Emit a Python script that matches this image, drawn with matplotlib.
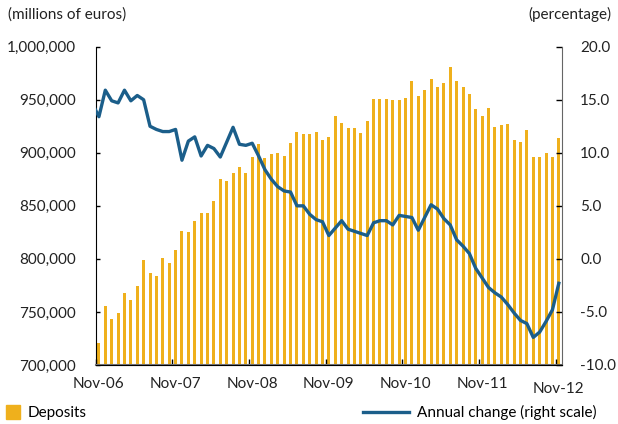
import numpy as np
import matplotlib
matplotlib.use('Agg')
import matplotlib.pyplot as plt
from matplotlib.transforms import ScaledTranslation
from matplotlib.patches import Patch
from matplotlib.lines import Line2D

plt.rcParams['font.family'] = ['Lato', 'DejaVu Sans']

# Monthly deposits, Nov-06 .. Nov-12 (millions of euros)
deposits = [720500, 755700, 743000, 748700, 768000, 761000, 774500, 799000, 786800, 783700,
            800600, 796000, 808000, 826400, 825500, 835500, 842800, 842800, 854400, 875200,
            873600, 880800, 886800, 881200, 896000, 908200, 895300, 898400, 899700, 897200,
            909400, 919500, 917600, 918000, 920000, 912300, 915000, 934900, 927700, 923600,
            923000, 918600, 929900, 951000, 950600, 951000, 950000, 949700, 951700, 967300,
            953800, 959400, 969800, 962000, 965700, 980800, 967300, 962000, 955400, 941200,
            934900, 941800, 924200, 926400, 927000, 912300, 910100, 921700, 896200, 896200,
            899700, 896200, 913900]

# Annual change (%), Oct-06 .. Nov-12
annual_change = [14.6, 13.4, 15.9, 14.9, 14.7, 15.9, 14.9, 15.4, 15.0, 12.5, 12.2,
                 12.0, 12.0, 12.2, 9.3, 11.1, 11.5, 9.7, 10.7, 10.4, 9.6, 11.0,
                 12.4, 10.8, 10.7, 10.9, 9.7, 8.4, 7.5, 6.8, 6.4, 6.3, 5.0, 5.0,
                 4.2, 3.7, 3.5, 2.2, 2.9, 3.6, 2.8, 2.6, 2.4, 2.2, 3.4, 3.6, 3.6,
                 3.2, 4.1, 4.0, 3.9, 2.7, 3.9, 5.1, 4.7, 3.8, 3.2, 1.8, 1.2, 0.5,
                 -0.9, -1.8, -2.7, -3.2, -3.6, -4.3, -5.1, -5.8, -6.1, -7.4, -6.9,
                 -5.9, -4.8, -2.3]

year_labels = ['Nov-06', 'Nov-07', 'Nov-08', 'Nov-09', 'Nov-10', 'Nov-11', 'Nov-12']
left_ticks = [700000, 750000, 800000, 850000, 900000, 950000, 1000000]
right_ticks = [-10, -5, 0, 5, 10, 15, 20]

bar_color = '#EFB01C'
line_color = '#1B5E8A'
text_color = '#222222'

x = np.arange(len(deposits))
x_line = np.arange(-1, len(annual_change) - 1)

fig = plt.figure(figsize=(6.18, 4.24), dpi=100)
ax = fig.add_axes([0.1549, 0.1392, 0.7545, 0.7507])
ax2 = ax.twinx()

ax.bar(x, deposits, width=0.47, color=bar_color, edgecolor='none')
ax2.plot(x_line, annual_change, color=line_color, lw=2.4, solid_joinstyle='round')

ax.set_xlim(-0.5, len(deposits) - 0.5)
ax.set_ylim(700000, 1000000)
ax2.set_ylim(-10, 20)

ax.set_yticks(left_ticks)
ax.set_yticklabels(['{:,}'.format(v) for v in left_ticks])
ax2.set_yticks(right_ticks)
ax2.set_yticklabels(['{:.1f}'.format(v) for v in right_ticks])

# ticks at slot boundaries, labels at bar centres
ax.set_xticks([i * 12 - 0.5 for i in range(len(year_labels))])
ax.set_xticklabels([])
ax.set_xticks([i * 12 for i in range(len(year_labels))], minor=True)
ax.set_xticklabels(year_labels, minor=True)
ax.tick_params(axis='x', which='major', direction='in', length=4, width=1, color='black')
ax.tick_params(axis='x', which='minor', length=0, pad=9, labelsize=11, labelcolor=text_color)
ax.tick_params(axis='y', direction='in', length=3, width=1, pad=14, labelsize=11, labelcolor=text_color)
ax2.tick_params(axis='y', direction='in', length=4, width=1, pad=13, labelsize=11, labelcolor=text_color)

# Nov-12 sits a little lower
last = ax.get_xticklabels(minor=True)[-1]
last.set_transform(last.get_transform() + ScaledTranslation(0, -3 / 72, fig.dpi_scale_trans))

for a in (ax, ax2):
    a.spines['top'].set_visible(False)
ax.spines['left'].set_color('black')
ax2.spines['left'].set_visible(False)
ax2.spines['right'].set_color('#666666')
ax.spines['right'].set_visible(False)
ax.spines['bottom'].set_color('#777777')
ax.spines['bottom'].set_linewidth(1.5)

fig.text(0.013, 0.965, '(millions of euros)', fontsize=11, color=text_color, va='center')
fig.text(0.99, 0.965, '(percentage)', fontsize=11, color=text_color, va='center', ha='right')

fig.legend(handles=[Patch(color=bar_color)], labels=['Deposits'], loc='center left',
           bbox_to_anchor=(0.0, 0.027), frameon=False, fontsize=11, handlelength=0.9,
           handleheight=1.0, handletextpad=0.5, borderaxespad=0)
fig.legend(handles=[Line2D([], [], color=line_color, lw=2.4)], labels=['Annual change (right scale)'],
           loc='center right', bbox_to_anchor=(0.975, 0.027), frameon=False, fontsize=11,
           handlelength=3.0, handletextpad=0.5, borderaxespad=0)

fig.savefig('out.png', dpi=100)
